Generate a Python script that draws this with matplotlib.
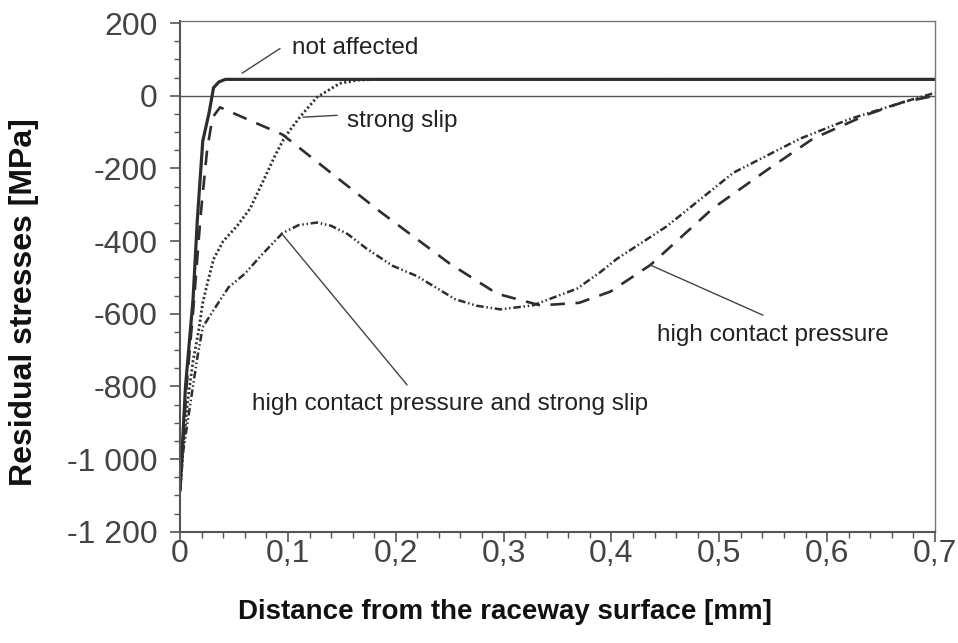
import numpy as np
import matplotlib
matplotlib.use('Agg')
import matplotlib.pyplot as plt
from matplotlib.ticker import FixedLocator, FixedFormatter, MultipleLocator

plt.rcParams['font.family'] = ['Liberation Sans', 'DejaVu Sans']

# depth below the raceway surface [mm] / residual stress [MPa]
x_unaffected = [0, 0.005, 0.012, 0.016, 0.021, 0.027, 0.031, 0.036, 0.042, 0.70]
s_unaffected = [-1085, -800, -560, -340, -125, -45, 22, 38, 45, 45]

x_pressure = [0, 0.006, 0.013, 0.019, 0.025, 0.030, 0.037, 0.095, 0.185, 0.25,
              0.294, 0.334, 0.37, 0.399, 0.436, 0.494, 0.544, 0.587, 0.637, 0.67, 0.70]
s_pressure = [-1085, -800, -560, -330, -150, -60, -32, -107, -318, -462,
              -545, -577, -570, -539, -466, -310, -205, -118, -52, -18, 0]

x_slip = [0, 0.003, 0.007, 0.012, 0.017, 0.021, 0.025, 0.031, 0.040, 0.053,
          0.065, 0.077, 0.088, 0.097, 0.111, 0.127, 0.148, 0.165, 0.185, 0.70]
s_slip = [-1085, -960, -840, -730, -650, -570, -520, -450, -400, -358,
          -310, -235, -165, -114, -59, -4, 34, 43, 45, 45]

x_both = [0, 0.003, 0.009, 0.016, 0.021, 0.031, 0.045, 0.060, 0.075, 0.095,
          0.110, 0.127, 0.140, 0.155, 0.173, 0.197, 0.22, 0.255, 0.275, 0.297,
          0.327, 0.368, 0.389, 0.405, 0.451, 0.513, 0.575, 0.621, 0.668, 0.70]
s_both = [-1085, -976, -857, -720, -637, -590, -527, -490, -440, -378,
          -356, -349, -358, -380, -421, -468, -497, -560, -578, -588,
          -577, -531, -487, -449, -360, -212, -118, -64, -20, 8]

xticks = [0, 0.1, 0.2, 0.3, 0.4, 0.5, 0.6, 0.7]
xtick_labels = ['0', '0,1', '0,2', '0,3', '0,4', '0,5', '0,6', '0,7']
yticks = [200, 0, -200, -400, -600, -800, -1000, -1200]
ytick_labels = ['200', '0', '-200', '-400', '-600', '-800', '-1 000', '-1 200']

ink = '#2e2e2e'
axis_grey = '#555555'

fig = plt.figure(figsize=(9.58, 6.43), dpi=100)
ax = fig.add_axes([0.188, 0.173, 0.788, 0.794])

ax.axhline(0, color=axis_grey, lw=1.0, zorder=1)
ax.plot(x_unaffected, s_unaffected, color=ink, lw=2.3)
ax.plot(x_pressure, s_pressure, color=ink, lw=1.9, linestyle=(0, (5.5, 4)))
ax.plot(x_slip, s_slip, color=ink, lw=2.0, linestyle=(0, (0.75, 0.9)))
ax.plot(x_both, s_both, color=ink, lw=1.8, linestyle=(0, (3, 1.1, 0.6, 1.1, 0.6, 1.1)))

ax.set_xlim(0, 0.7)
ax.set_ylim(-1200, 205)

ax.xaxis.set_major_locator(FixedLocator(xticks))
ax.xaxis.set_major_formatter(FixedFormatter(xtick_labels))
ax.xaxis.set_minor_locator(MultipleLocator(0.02))
ax.yaxis.set_major_locator(FixedLocator(yticks))
ax.yaxis.set_major_formatter(FixedFormatter(ytick_labels))
ax.yaxis.set_minor_locator(MultipleLocator(50))

ax.tick_params(which='major', direction='out', length=7, width=1.2, color=axis_grey,
               labelsize=23, labelcolor='#444444')
ax.tick_params(axis='y', which='major', pad=9)
ax.tick_params(axis='x', which='major', pad=-2)
ax.tick_params(which='minor', direction='out', length=4, width=1.0, color=axis_grey)

for side in ['left', 'bottom']:
    ax.spines[side].set_color(axis_grey)
    ax.spines[side].set_linewidth(1.5)
for side in ['top', 'right']:
    ax.spines[side].set_color('#777777')
    ax.spines[side].set_linewidth(1.0)

ax.set_xlabel('Distance from the raceway surface [mm]', fontsize=20, fontweight='bold', color='#111111')
ax.xaxis.label.set_va('center')
ax.xaxis.set_label_coords(0.43, -0.157)
ax.set_ylabel('Residual stresses [MPa]', fontsize=23, fontweight='bold', color='#111111')
ax.yaxis.label.set_va('center')
ax.yaxis.set_label_coords(-0.207, 0.45)

# leader lines and curve names
lead = dict(arrowstyle='-', color='#444444', lw=1.0, shrinkA=0, shrinkB=0)
ax.annotate('', xy=(0.0575, 62), xytext=(0.0927, 130), arrowprops=lead)
ax.text(0.104, 114, 'not affected', fontsize=17.5, color='#222222', va='baseline')

ax.annotate('', xy=(0.114, -59), xytext=(0.1456, -54), arrowprops=lead)
ax.text(0.155, -87, 'strong slip', fontsize=17.5, color='#222222', va='baseline')

ax.annotate('', xy=(0.0955, -384), xytext=(0.2105, -796), arrowprops=lead)
ax.text(0.0668, -865, 'high contact pressure and strong slip', fontsize=17.5,
        color='#222222', va='baseline')

ax.annotate('', xy=(0.436, -466), xytext=(0.5405, -604), arrowprops=lead)
ax.text(0.442, -675, 'high contact pressure', fontsize=17.5, color='#222222', va='baseline')

fig.savefig('out.png', dpi=100)
